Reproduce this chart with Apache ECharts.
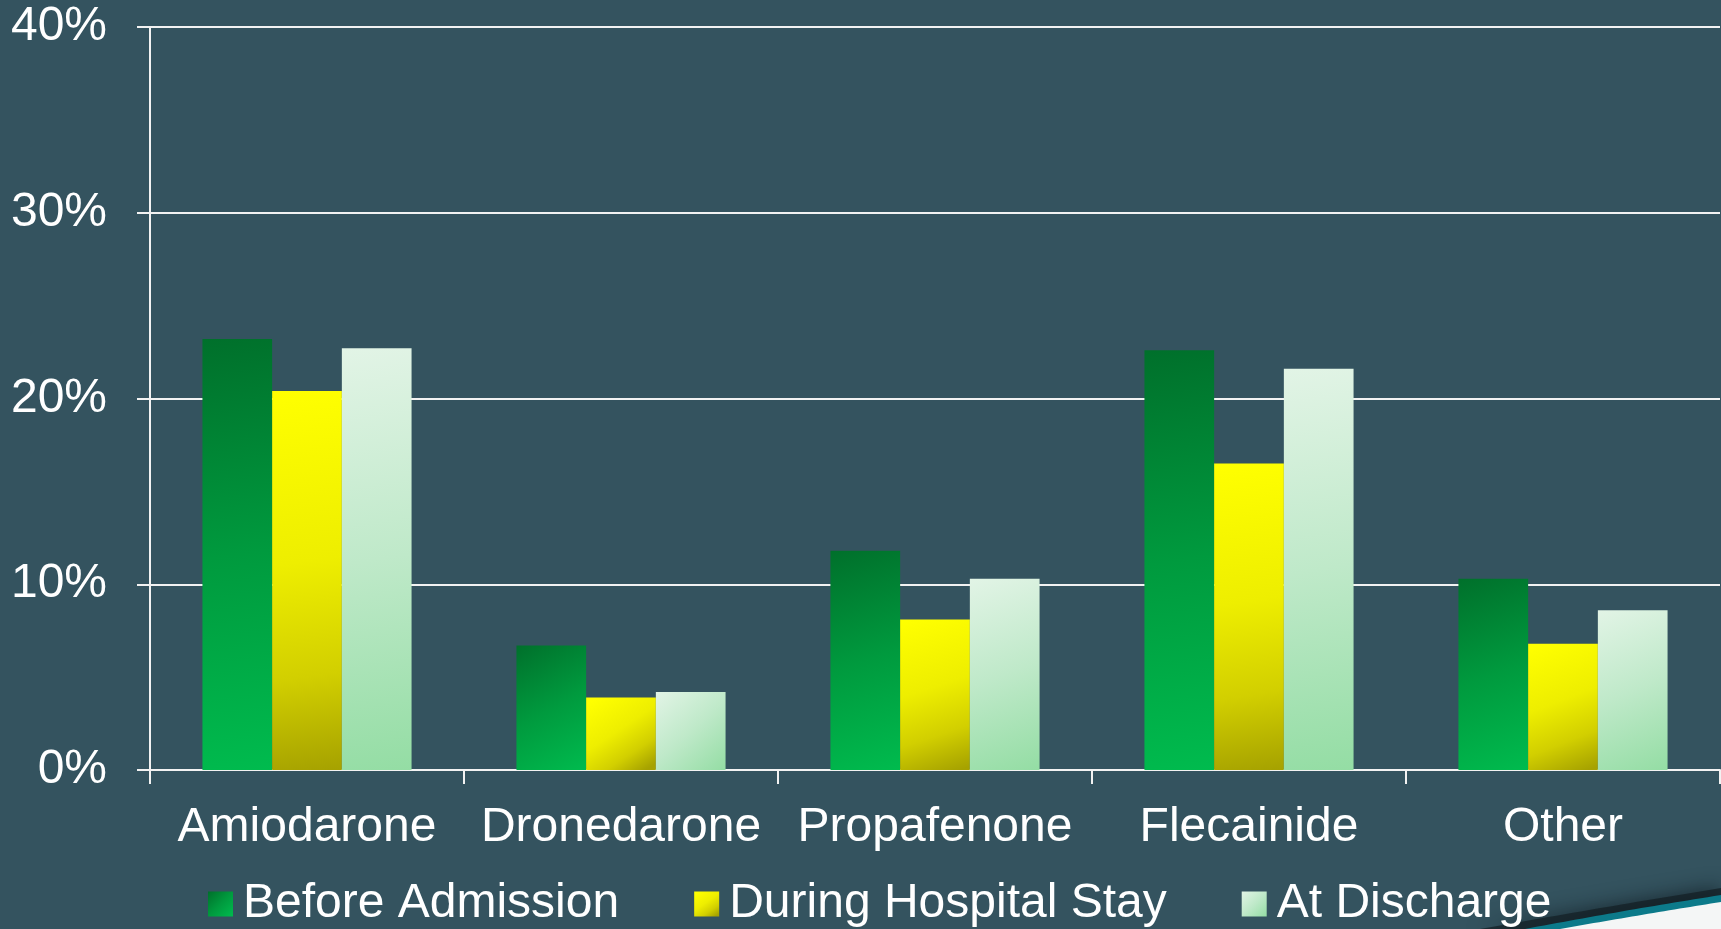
<!DOCTYPE html>
<html>
<head>
<meta charset="utf-8">
<script src="https://cdn.jsdelivr.net/npm/echarts@6/dist/echarts.min.js"></script>
<style>
  html, body { margin: 0; padding: 0; background: #34535f; }
  #chart { width: 1721px; height: 929px; }
</style>
</head>
<body>
<div id="chart"></div>
<script>
const categories = ['Amiodarone', 'Dronedarone', 'Propafenone', 'Flecainide', 'Other'];
const seriesNames = ['Before Admission', 'During Hospital Stay', 'At Discharge'];
const beforeAdmission = [23.2, 6.7, 11.8, 22.6, 10.3];
const duringHospitalStay = [20.4, 3.9, 8.1, 16.5, 6.8];
const atDischarge = [22.7, 4.2, 10.3, 21.6, 8.6];
const yTicks = { min: 0, max: 40, interval: 10 };

const FONT = "'Liberation Sans', Arial, sans-serif";
const FS = 48;

function grad(x, y, x2, y2, stops) {
  return { type: 'linear', x: x, y: y, x2: x2, y2: y2, colorStops: stops };
}
const greenGrad = grad(0, 0, 1, 1, [
  { offset: 0, color: '#00702b' },
  { offset: 0.5, color: '#009a3e' },
  { offset: 1, color: '#00bb4e' }
]);
const yellowGrad = grad(0.15, 0, 0.85, 1, [
  { offset: 0, color: '#ffff00' },
  { offset: 0.45, color: '#eeee00' },
  { offset: 0.75, color: '#d2cf00' },
  { offset: 1, color: '#a6a200' }
]);
const lightGrad = grad(0, 0, 1, 1, [
  { offset: 0, color: '#e2f4e6' },
  { offset: 0.5, color: '#bfe9c9' },
  { offset: 1, color: '#94dda4' }
]);

// decorative swoosh in the bottom-right corner (quadratic curve sampled into a polygon)
function swoosh(x0, y0, cx, cy, x1, y1) {
  const pts = [];
  for (let i = 0; i <= 30; i++) {
    const t = i / 30;
    const x = (1 - t) * (1 - t) * x0 + 2 * (1 - t) * t * cx + t * t * x1;
    const y = (1 - t) * (1 - t) * y0 + 2 * (1 - t) * t * cy + t * t * y1;
    pts.push([x, y]);
  }
  pts.push([1721, 929]);
  return pts;
}

const chart = echarts.init(document.getElementById('chart'), null, { renderer: 'canvas' });

chart.setOption({
  backgroundColor: '#34535f',
  animation: false,
  textStyle: { fontFamily: FONT },
  grid: { left: 150, right: 1, top: 27, bottom: 159, containLabel: false, outerBoundsMode: 'none' },
  legend: {
    left: 208,
    top: 880,
    padding: 0,
    itemWidth: 25,
    itemHeight: 25,
    itemGap: 75,
    icon: 'rect',
    z: 10,
    data: seriesNames,
    textStyle: { color: '#ffffff', fontSize: FS, fontFamily: FONT, lineHeight: 48, padding: [0, 0, 0, 5] }
  },
  xAxis: {
    type: 'category',
    data: categories,
    axisLine: { lineStyle: { color: '#f2f2f2', width: 2 } },
    axisTick: { show: true, length: 14, lineStyle: { color: '#f2f2f2', width: 2 } },
    axisLabel: { color: '#ffffff', fontSize: FS, fontFamily: FONT, margin: 34, interval: 0 },
    splitLine: { show: false }
  },
  yAxis: {
    type: 'value',
    min: yTicks.min,
    max: yTicks.max,
    interval: yTicks.interval,
    axisLine: { show: true, lineStyle: { color: '#f2f2f2', width: 2 } },
    axisTick: { show: true, length: 13, lineStyle: { color: '#f2f2f2', width: 2 } },
    axisLabel: { color: '#ffffff', fontSize: FS, fontFamily: FONT, margin: 43, formatter: '{value}%', padding: [6, 0, 0, 0] },
    splitLine: { show: true, lineStyle: { color: '#f2f2f2', width: 2 } }
  },
  series: [
    { name: seriesNames[0], type: 'bar', data: beforeAdmission, barGap: '0%', barCategoryGap: '33.4%', itemStyle: { color: greenGrad } },
    { name: seriesNames[1], type: 'bar', data: duringHospitalStay, barGap: '0%', barCategoryGap: '33.4%', itemStyle: { color: yellowGrad } },
    { name: seriesNames[2], type: 'bar', data: atDischarge, barGap: '0%', barCategoryGap: '33.4%', itemStyle: { color: lightGrad } }
  ],
  graphic: [
    {
      type: 'polygon',
      z: 1,
      silent: true,
      shape: { points: swoosh(1480, 929, 1610, 906, 1721, 888) },
      style: { fill: 'rgba(20,32,38,0.75)', shadowBlur: 20, shadowColor: 'rgba(10,20,25,0.9)' }
    },
    {
      type: 'polygon',
      z: 2,
      silent: true,
      shape: { points: swoosh(1525, 929, 1620, 911, 1721, 895) },
      style: { fill: '#0c7a8a' }
    },
    {
      type: 'polygon',
      z: 3,
      silent: true,
      shape: { points: swoosh(1560, 929, 1645, 914, 1721, 902) },
      style: { fill: '#f4f6f6' }
    }
  ]
});
</script>
</body>
</html>
